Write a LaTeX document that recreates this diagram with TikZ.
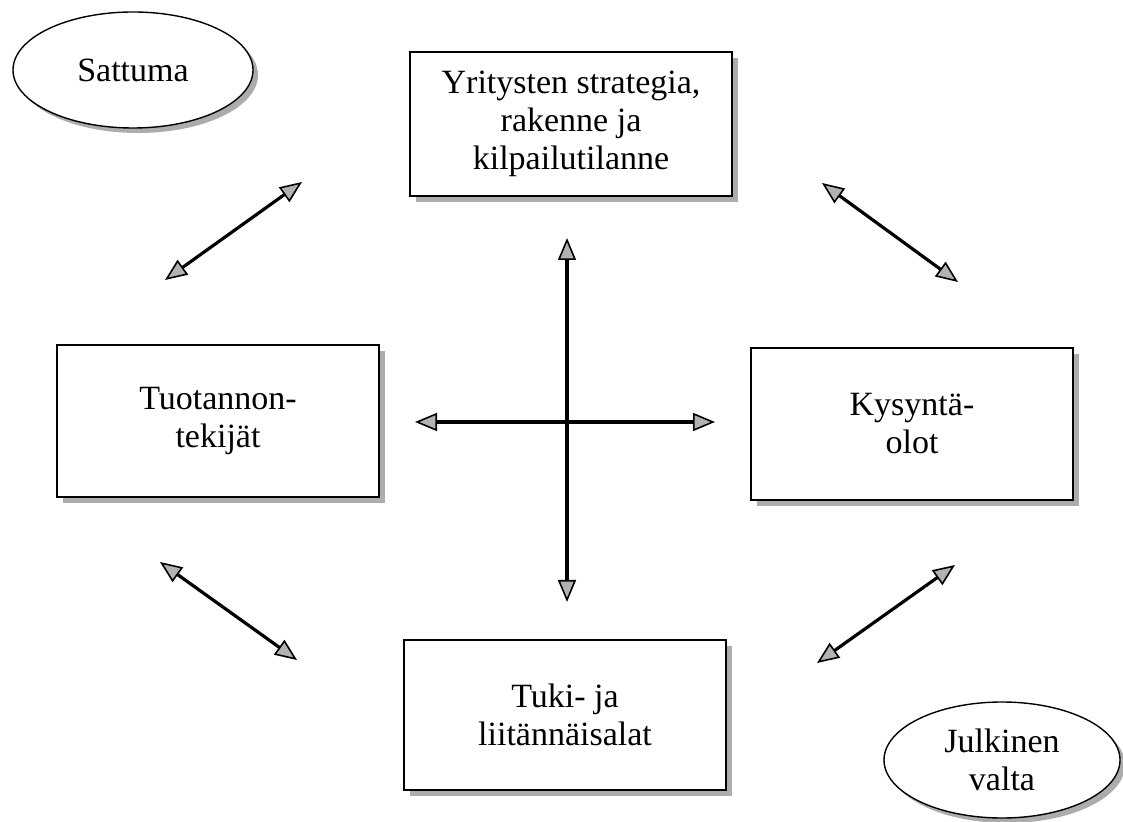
\documentclass[tikz,border=0pt]{standalone}
\usepackage{fontspec}
\setmainfont{Liberation Serif}
\usepackage{tikz}
\usetikzlibrary{arrows.meta,positioning,shapes.geometric,shadows}

\begin{document}
\begin{tikzpicture}[
  x=0.5pt, y=-0.5pt,
  every node/.style={font=\fontsize{17}{19}\selectfont, align=center},
  factor/.style={draw, line width=1.3pt, fill=white, inner sep=0pt,
    minimum width=161pt, minimum height=#1,
    drop shadow={shadow xshift=3pt, shadow yshift=-3pt, fill=gray!65, opacity=1}},
  outside/.style={ellipse, draw, line width=0.7pt, fill=white, inner sep=0pt,
    minimum width=#1, minimum height=58pt,
    drop shadow={shadow xshift=2.5pt, shadow yshift=-2.5pt, fill=gray!65, opacity=1}},
  link/.style={line width=#1, {Triangle[length=11pt, width=9pt, fill=gray!60, line width=0.8pt]}-{Triangle[length=11pt, width=9pt, fill=gray!60, line width=0.8pt]}},
  link/.default=1.6pt,
]
\useasboundingbox (0,0) rectangle (1123,822);

% --- the four factors of the diamond
\node[factor=72pt] (strategy) at (571,124) {Yritysten strategia,\\ rakenne ja\\ kilpailutilanne};
\node[factor=76pt] (factors)  at (218,421) {Tuotannon-\\ tekijät};
\node[factor=76pt] (demand)   at (912,424) {Kysyntä-\\ olot};
\node[factor=75pt] (related)  at (565,715) {Tuki- ja\\ liitännäisalat};

% --- outside influences
\node[outside=120pt] (chance) at (133,70)  {Sattuma};
\node[outside=118pt] (govt)   at (1002,760) {Julkinen\\ valta};

% --- arrow ends
\coordinate (tlA) at (165,280);  \coordinate (tlB) at (302,182);
\coordinate (trA) at (822,183);  \coordinate (trB) at (958,282);
\coordinate (blA) at (160,562);  \coordinate (blB) at (297,660);
\coordinate (brA) at (817,663);  \coordinate (brB) at (955,565);
\coordinate (vUp) at (567,238);  \coordinate (vDown) at (567,602);
\coordinate (hLeft) at (415,422); \coordinate (hRight) at (715,422);

% --- links between the factors
\draw[link] (tlA) -- (tlB);
\draw[link] (trA) -- (trB);
\draw[link] (blA) -- (blB);
\draw[link] (brA) -- (brB);
\draw[link=2pt] (vUp) -- (vDown);
\draw[link=2pt] (hLeft) -- (hRight);
\end{tikzpicture}
\end{document}
